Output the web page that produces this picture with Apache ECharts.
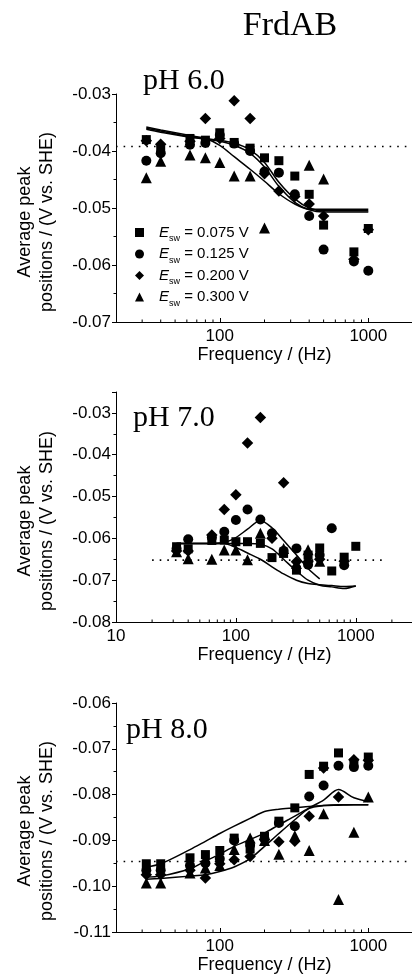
<!DOCTYPE html>
<html><head><meta charset="utf-8">
<script src="https://cdn.jsdelivr.net/npm/echarts@6/dist/echarts.min.js"></script>
<style>html,body{margin:0;padding:0;background:#fff}#c{width:412px;height:975px}</style>
</head><body><div id="c"></div>
<script>
// ---------- data ----------
const freqs = [32, 40, 63, 80, 100, 125, 160, 200, 250, 320, 400, 500, 630, 800, 1000];
const legendLabels = ['0.075 V', '0.125 V', '0.200 V', '0.300 V'];
const panelLabels = ['pH 6.0', 'pH 7.0', 'pH 8.0'];
const xTickMinor13 = [30, 40, 50, 60, 70, 80, 90, 200, 300, 400, 500, 600, 700, 800, 900];
const xTickMinor2 = [20, 30, 40, 50, 60, 70, 80, 90, 200, 300, 400, 500, 600, 700, 800, 900, 2000];

// pH 6.0
const sq6 = [-0.0380, -0.0398, -0.0378, -0.0381, -0.0368, -0.0385, -0.0395, -0.0412, -0.0417, -0.0444, -0.0476, -0.0530, null, -0.0577, -0.0536];
const ci6 = [-0.0417, -0.0404, -0.0389, -0.0386, -0.0372, -0.0387, -0.0400, -0.0436, -0.0438, -0.0476, -0.0514, -0.0573, null, -0.0594, -0.0610];
const di6 = [-0.0382, -0.0388, -0.0383, -0.0343, -0.0378, -0.0312, -0.0343, -0.0440, -0.0470, -0.0480, -0.0493, -0.0514, null, -0.0590, -0.0538];
const tr6 = [-0.0447, -0.0418, -0.0407, -0.0412, -0.0420, -0.0444, -0.0444, -0.0535, null, null, -0.0425, -0.0449, null, null, null];
const m6a = [-0.0358, -0.0363, -0.0373, -0.0378, -0.0390, -0.0410, -0.0432, -0.0453, -0.0475, -0.0493, -0.0502, -0.0502, -0.0502, -0.0502, -0.0502];
const m6b = [-0.0360, -0.0365, -0.0375, -0.0378, -0.0381, -0.0386, -0.0398, -0.0420, -0.0455, -0.0484, -0.0500, -0.0505, -0.0505, -0.0505, -0.0505];
const m6c = [-0.0362, -0.0367, -0.0376, -0.0379, -0.0383, -0.0390, -0.0404, -0.0428, -0.0462, -0.0490, -0.0503, -0.0507, -0.0507, -0.0507, -0.0507];
const ref6 = [[20, -0.0392], [2000, -0.0392]];

// pH 7.0
const sq7 = [-0.0620, -0.0625, -0.0605, -0.0604, -0.0608, -0.0608, -0.0612, -0.0646, -0.0636, -0.0676, -0.0640, -0.0623, -0.0678, -0.0645, -0.0619];
const ci7 = [-0.0625, -0.0602, -0.0598, -0.0584, -0.0556, -0.0531, -0.0555, -0.0588, -0.0630, -0.0624, -0.0663, -0.0640, -0.0576, -0.0664, null];
const di7 = [-0.0630, -0.0630, -0.0592, -0.0531, -0.0496, -0.0372, -0.0311, -0.0600, -0.0467, -0.0656, -0.0656, -0.0650, null, -0.0655, null];
const tr7 = [-0.0632, -0.0649, -0.0650, -0.0628, -0.0628, -0.0651, -0.0588, null, -0.0624, -0.0660, -0.0627, -0.0655, null, null, null];
const m7a = [-0.0612, -0.0612, -0.0612, -0.0610, -0.0598, -0.0578, -0.0557, -0.0575, -0.0605, -0.0640, -0.0672, -0.0697, null, null, null];
const m7b = [-0.0612, -0.0612, -0.0612, -0.0612, -0.0612, -0.0612, -0.0614, -0.0625, -0.0650, -0.0678, -0.0700, -0.0712, -0.0716, -0.0720, -0.0714];
const m7c = [-0.0612, -0.0612, -0.0612, -0.0612, -0.0622, -0.0635, -0.0650, -0.0668, -0.0685, -0.0700, -0.0708, -0.0711, -0.0713, -0.0715, -0.0714];
const ref7 = [[20, -0.0652], [1800, -0.0652]];

// pH 8.0
const sq8 = [-0.0951, -0.0951, -0.0938, -0.0931, -0.0922, -0.0895, -0.0919, -0.0891, -0.0858, -0.0829, -0.0756, -0.0738, -0.0709, -0.0731, -0.0718];
const ci8 = [-0.0965, -0.0965, -0.0955, -0.0950, -0.0940, -0.0900, -0.0910, -0.0897, -0.0862, -0.0869, -0.0804, -0.0780, -0.0737, -0.0740, -0.0737];
const di8 = [-0.0975, -0.0975, -0.0965, -0.0982, -0.0951, -0.0942, -0.0935, -0.0898, -0.0903, -0.0902, -0.0847, -0.0742, -0.0805, -0.0724, -0.0725];
const tr8 = [-0.0993, -0.0993, -0.0971, -0.0960, -0.0955, -0.0920, -0.0895, -0.0900, -0.0930, -0.0890, -0.0922, -0.0842, -0.1029, -0.0882, -0.0805];
const m8a = [-0.0958, -0.0951, -0.0920, -0.0902, -0.0885, -0.0869, -0.0852, -0.0837, -0.0832, -0.0829, -0.0826, -0.0824, -0.0823, -0.0822, -0.0822];
const m8b = [-0.0980, -0.0978, -0.0962, -0.0945, -0.0930, -0.0913, -0.0898, -0.0884, -0.0866, -0.0847, -0.0829, -0.0812, -0.0789, -0.0807, -0.0815];
const m8c = [-0.0985, -0.0983, -0.0978, -0.0975, -0.0968, -0.0958, -0.0940, -0.0913, -0.0885, -0.0855, -0.0830, -0.0824, -0.0822, -0.0822, -0.0822];
const ref8 = [[20, -0.0946], [2000, -0.0946]];

// ---------- chart ----------
const SANS = '"Liberation Sans", Arial, sans-serif';
const SERIF = '"Liberation Serif", "Times New Roman", serif';
const panels = [
  { top: 94, height: 228, xmin: 20, xmax: 2000, ymin: -0.07, ymax: -0.03, pts: [sq6, ci6, di6, tr6], models: [m6a, m6b, m6c], ref: ref6, minor: xTickMinor13, labelX: 143, labelY: 81, titleY: 222 },
  { top: 392, height: 230, xmin: 10, xmax: 3000, ymin: -0.08, ymax: -0.025, pts: [sq7, ci7, di7, tr7], models: [m7a, m7b, m7c], ref: ref7, minor: xTickMinor2, labelX: 133, labelY: 418, titleY: 521 },
  { top: 703, height: 229, xmin: 20, xmax: 2000, ymin: -0.11, ymax: -0.06, pts: [sq8, ci8, di8, tr8], models: [m8a, m8b, m8c], ref: ref8, minor: xTickMinor13, labelX: 126, labelY: 730, titleY: 831 }
];
const symbols = ['rect', 'circle', 'diamond', 'triangle'];
const symSizes = [9, 10, 11.5, 11];

function pairs(arr) {
  const out = [];
  freqs.forEach((f, i) => { if (arr[i] != null) out.push([f, arr[i]]); });
  return out;
}

const grids = [], xAxes = [], yAxes = [], series = [], graphics = [];
panels.forEach((p, k) => {
  grids.push({ left: 116, width: 297, top: p.top, height: p.height, outerBoundsMode: 'none', containLabel: false });
  xAxes.push({
    gridIndex: k, type: 'log', logBase: 10, min: p.xmin, max: p.xmax,
    axisLine: { show: true, lineStyle: { color: '#000', width: 1 } },
    axisTick: { show: true, inside: true, length: 4, lineStyle: { color: '#000' } },
    minorTick: { show: false }, splitLine: { show: false },
    axisLabel: {
      color: '#000', fontSize: 17, fontFamily: SANS, margin: 6,
      formatter: v => { const l = Math.log10(v); return Math.abs(l - Math.round(l)) < 1e-6 ? String(Math.round(v)) : ''; }
    },
    name: 'Frequency / (Hz)', nameLocation: 'middle', nameGap: k === 2 ? 22 : 24,
    nameTextStyle: { color: '#000', fontSize: 18, fontFamily: SANS }
  });
  yAxes.push({
    gridIndex: k, type: 'value', min: p.ymin, max: p.ymax, interval: 0.01,
    axisLine: { show: true, lineStyle: { color: '#000', width: 1 } },
    axisTick: { show: true, length: 4, lineStyle: { color: '#000' } },
    minorTick: { show: true, splitNumber: 2, length: 2.5, lineStyle: { color: '#000' } },
    splitLine: { show: false },
    axisLabel: {
      color: '#000', fontSize: 17, fontFamily: SANS, margin: 5,
      formatter: v => (Math.abs(v * 100 - Math.round(v * 100)) > 1e-6 ? '' : v.toFixed(2))
    }
  });
  // dotted reference line
  series.push({
    type: 'line', xAxisIndex: k, yAxisIndex: k, data: p.ref, showSymbol: false, silent: true,
    lineStyle: { color: '#000', width: 1.6, type: [1.6, 6] }, z: 1
  });
  // model curves
  p.models.forEach(m => {
    series.push({
      type: 'line', xAxisIndex: k, yAxisIndex: k, data: pairs(m), showSymbol: false, silent: true,
      smooth: 0.3, lineStyle: { color: '#000', width: 1.5 }, z: 2
    });
  });
  // data markers
  p.pts.forEach((arr, j) => {
    series.push({
      type: 'scatter', name: legendLabels[j], xAxisIndex: k, yAxisIndex: k, data: pairs(arr),
      symbol: symbols[j], symbolSize: symSizes[j], itemStyle: { color: '#000', opacity: 1 }, z: 3
    });
  });
  // minor x ticks
  series.push({
    type: 'scatter', xAxisIndex: k, yAxisIndex: k, data: p.minor.map(f => [f, p.ymin]),
    symbol: 'rect', symbolSize: [1, 2.5], symbolOffset: [0, -1.25], clip: false, silent: true,
    itemStyle: { color: '#000', opacity: 1 }, z: 4
  });
  graphics.push({ type: 'text', x: p.labelX, y: p.labelY,
    style: { text: panelLabels[k], fontSize: 30, fontFamily: SERIF, fill: '#000', align: 'left', verticalAlign: 'middle' } });
  graphics.push({ type: 'text', x: 25, y: p.titleY, rotation: Math.PI / 2,
    style: { text: 'Average peak', fontSize: 18, fontFamily: SANS, fill: '#000', align: 'center', verticalAlign: 'middle' } });
  graphics.push({ type: 'text', x: 47, y: p.titleY, rotation: Math.PI / 2,
    style: { text: 'positions / (V vs. SHE)', fontSize: 18, fontFamily: SANS, fill: '#000', align: 'center', verticalAlign: 'middle' } });
});
graphics.push({ type: 'text', x: 290, y: 26,
  style: { text: 'FrdAB', fontSize: 34, fontFamily: SERIF, fill: '#000', align: 'center', verticalAlign: 'middle' } });

const chart = echarts.init(document.getElementById('c'), null, { renderer: 'canvas' });
chart.setOption({
  animation: false,
  backgroundColor: '#fff',
  grid: grids, xAxis: xAxes, yAxis: yAxes, series: series, graphic: graphics,
  legend: {
    left: 130, top: 220, orient: 'vertical', itemGap: 3, itemWidth: 9, itemHeight: 9,
    selectedMode: false,
    data: legendLabels.map((n, i) => ({ name: n, icon: symbols[i], itemStyle: { color: '#000', opacity: 1 } })),
    formatter: n => '{e|E}{s|sw}{t| = ' + n + '}',
    textStyle: {
      color: '#000', fontFamily: SANS, fontSize: 15,
      rich: {
        e: { fontStyle: 'italic', fontSize: 15, fontFamily: SANS, padding: [0, 0, 0, 10], lineHeight: 16, color: '#000' },
        s: { fontSize: 9, fontFamily: SANS, verticalAlign: 'bottom', lineHeight: 16, padding: [0, 0, -3, 0], color: '#000' },
        t: { fontSize: 15, fontFamily: SANS, lineHeight: 16, color: '#000' }
      }
    }
  }
});
</script>
</body></html>
